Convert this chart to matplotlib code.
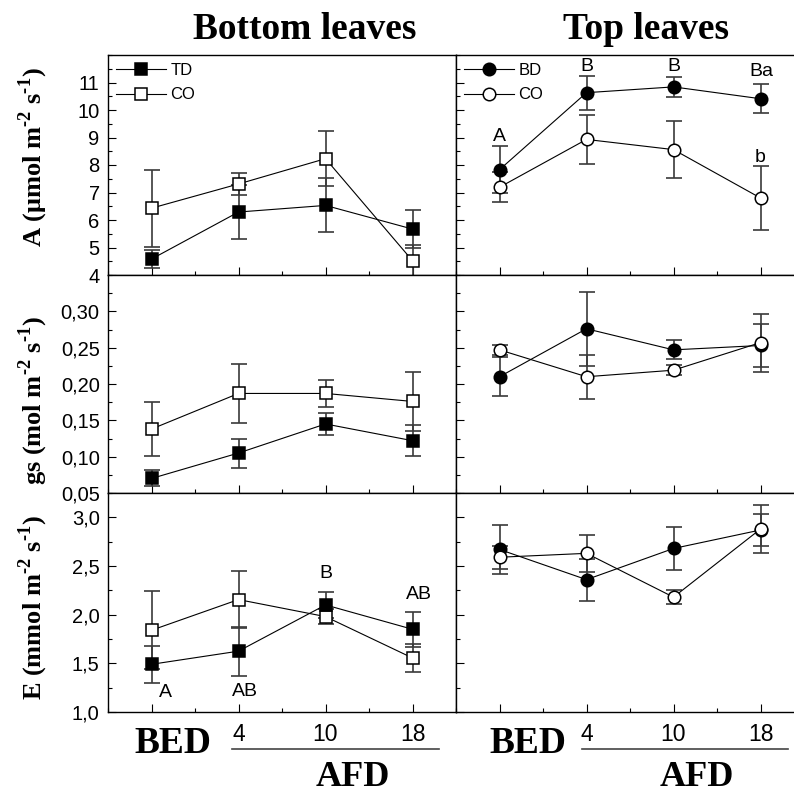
import numpy as np
import matplotlib
matplotlib.use('Agg')
import matplotlib.pyplot as plt
from matplotlib.lines import Line2D
from matplotlib.ticker import MultipleLocator, FixedLocator, FuncFormatter

plt.rcParams['font.family'] = ['Liberation Sans', 'DejaVu Sans']

# sampling days (BED = before drought, then days after)
x = np.arange(4)
xlabels = ['', '4', '10', '18']

# photosynthesis A
A_TD = [4.58, 6.29, 6.53, 5.67]
A_TD_err = [0.33, 0.97, 0.98, 0.70]
A_CO_bot = [6.43, 7.31, 8.23, 4.52]
A_CO_bot_err = [1.40, 0.40, 1.00, 0.56]
A_BD = [7.83, 10.63, 10.84, 10.41]
A_BD_err = [0.85, 0.62, 0.35, 0.52]
A_CO_top = [7.19, 8.93, 8.56, 6.80]
A_CO_top_err = [0.55, 0.90, 1.05, 1.17]

# stomatal conductance gs
gs_TD = [0.070, 0.105, 0.145, 0.122]
gs_TD_err = [0.011, 0.020, 0.015, 0.021]
gs_CO_bot = [0.138, 0.187, 0.187, 0.176]
gs_CO_bot_err = [0.037, 0.040, 0.018, 0.040]
gs_BD = [0.210, 0.276, 0.247, 0.253]
gs_BD_err = [0.027, 0.051, 0.013, 0.030]
gs_CO_top = [0.247, 0.210, 0.219, 0.257]
gs_CO_top_err = [0.007, 0.030, 0.007, 0.040]

# transpiration E
E_TD = [1.49, 1.625, 2.10, 1.85]
E_TD_err = [0.19, 0.25, 0.13, 0.18]
E_CO_bot = [1.84, 2.155, 1.98, 1.555]
E_CO_bot_err = [0.40, 0.29, 0.08, 0.14]
E_BD = [2.67, 2.36, 2.68, 2.87]
E_BD_err = [0.25, 0.215, 0.22, 0.16]
E_CO_top = [2.59, 2.63, 2.18, 2.88]
E_CO_top_err = [0.12, 0.19, 0.07, 0.25]

yticks_A = [4, 5, 6, 7, 8, 9, 10, 11]
yticks_gs = [0.05, 0.10, 0.15, 0.20, 0.25, 0.30]
yticks_E = [1.0, 1.5, 2.0, 2.5, 3.0]

ylabels = ['A (\u03bcmol m$^{\\mathregular{\u20102}}$ s$^{\\mathregular{\u20101}}$)',
           'gs (mol m$^{\\mathregular{\u20102}}$ s$^{\\mathregular{\u20101}}$)',
           'E (mmol m$^{\\mathregular{\u20102}}$ s$^{\\mathregular{\u20101}}$)']

# significance letters: (row, col, x, y, text)
letters = [(0, 1, 0, 9.04, 'A'), (0, 1, 1, 11.59, 'B'), (0, 1, 2, 11.59, 'B'),
           (0, 1, 3.01, 11.41, 'Ba'), (0, 1, 3.0, 8.27, 'b'),
           (2, 0, 0.16, 1.20, 'A'), (2, 0, 1.07, 1.21, 'AB'),
           (2, 0, 2.0, 2.42, 'B'), (2, 0, 3.07, 2.21, 'AB')]

fig = plt.figure(figsize=(7.94, 7.94), dpi=100)
W = 348 / 794
lefts = [108 / 794, 456 / 794]
rows = [(1 - 275 / 794, 220 / 794), (1 - 493 / 794, 218 / 794), (1 - 712 / 794, 219 / 794)]
axes = [[fig.add_axes([l, b, W, h]) for l in lefts] for b, h in rows]

data = [
    [[(A_CO_bot, A_CO_bot_err, 's', 'white', 'CO'), (A_TD, A_TD_err, 's', 'black', 'TD')],
     [(A_BD, A_BD_err, 'o', 'black', 'BD'), (A_CO_top, A_CO_top_err, 'o', 'white', 'CO')]],
    [[(gs_CO_bot, gs_CO_bot_err, 's', 'white', 'CO'), (gs_TD, gs_TD_err, 's', 'black', 'TD')],
     [(gs_BD, gs_BD_err, 'o', 'black', 'BD'), (gs_CO_top, gs_CO_top_err, 'o', 'white', 'CO')]],
    [[(E_CO_bot, E_CO_bot_err, 's', 'white', 'CO'), (E_TD, E_TD_err, 's', 'black', 'TD')],
     [(E_BD, E_BD_err, 'o', 'black', 'BD'), (E_CO_top, E_CO_top_err, 'o', 'white', 'CO')]],
]
ylims = [(4, 12), (0.05, 0.35), (1.0, 3.25)]
ymin = [0.5, 0.025, 0.25]
yt = [yticks_A, yticks_gs, yticks_E]
fmts = ['%d', '%.2f', '%.1f']

for r in range(3):
    for c in range(2):
        ax = axes[r][c]
        handles = {}
        for vals, err, mk, fc, lab in data[r][c]:
            ax.errorbar(x, vals, yerr=err, fmt='none', ecolor='#3a3a3a',
                        elinewidth=1.2, capsize=6, capthick=1.2, zorder=2)
            ln, = ax.plot(x, vals, '-', color='black', lw=0.8, marker=mk,
                          ms=9 if mk == 's' else 9, mfc=fc, mec='black',
                          mew=1.1, zorder=3, label=lab)
            handles[lab] = ln
        ax.set_xlim(-0.5, 3.5)
        ax.set_ylim(*ylims[r])
        ax.set_xticks(x)
        ax.xaxis.set_minor_locator(MultipleLocator(0.5))
        ax.yaxis.set_major_locator(FixedLocator(yt[r]))
        ax.yaxis.set_minor_locator(MultipleLocator(ymin[r]))
        f = fmts[r]
        ax.yaxis.set_major_formatter(FuncFormatter(lambda v, p, f=f: (f % v).replace('.', ',')))
        ax.tick_params(which='both', direction='in', top=False, right=False, width=0.8)
        ax.tick_params(which='major', length=5.5)
        ax.tick_params(which='minor', length=3)
        ax.tick_params(axis='y', labelsize=14.5, pad=6, labelleft=(c == 0))
        if r == 2:
            ax.set_xticklabels(xlabels, fontsize=16.5)
            ax.tick_params(axis='x', pad=8)
        else:
            ax.set_xticklabels([])
        for s in ax.spines.values():
            s.set_linewidth(1.0)
        if r == 0:
            order = ['TD', 'CO'] if c == 0 else ['BD', 'CO']
            ax.legend([handles[k] for k in order], order, loc='upper left',
                      frameon=False, fontsize=12, handlelength=3.0,
                      handletextpad=0.25, labelspacing=0.55, borderpad=0.5,
                      borderaxespad=0.0, numpoints=1)

for r, c, xx, yy, t in letters:
    axes[r][c].text(xx, yy, t, ha='center', va='center', fontsize=14)

serif = dict(family='Liberation Serif', weight='bold')
fig.text(305 / 794, 1 - 39 / 794, 'Bottom leaves', ha='center', va='baseline', fontsize=27, **serif)
fig.text(646 / 794, 1 - 39 / 794, 'Top leaves', ha='center', va='baseline', fontsize=27, **serif)

for lab, yc in zip(ylabels, [157, 400, 607]):
    fig.text(33 / 794, 1 - yc / 794, lab, rotation=90, ha='center', va='center',
             fontsize=19, **serif)

for bx, ax_, l0, l1 in [(173, 353, 232, 439), (528, 697, 582, 788)]:
    fig.text(bx / 794, 1 - 753 / 794, 'BED', ha='center', va='baseline', fontsize=27, **serif)
    fig.text(ax_ / 794, 1 - 786 / 794, 'AFD', ha='center', va='baseline', fontsize=26, **serif)
    fig.add_artist(Line2D([l0 / 794, l1 / 794], [1 - 749 / 794, 1 - 749 / 794],
                          color='#444444', lw=1.2))

fig.savefig('out.png', dpi=100)
